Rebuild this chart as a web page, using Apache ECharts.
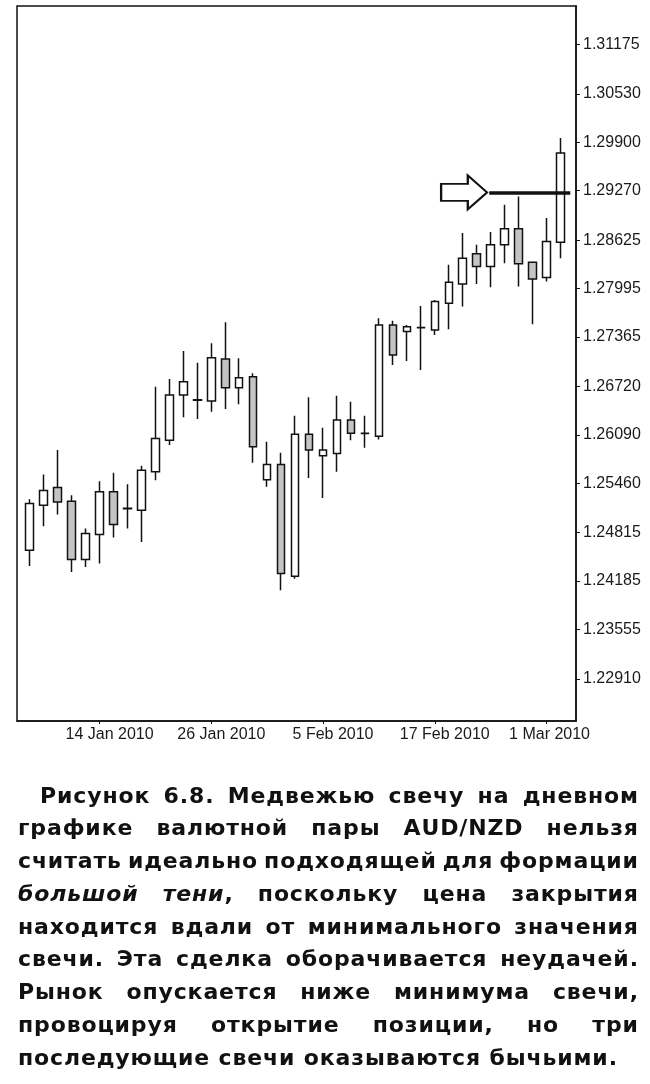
<!DOCTYPE html>
<html><head><meta charset="utf-8">
<script src="https://cdn.jsdelivr.net/npm/echarts@6/dist/echarts.min.js"></script>
<style>html,body{margin:0;padding:0;background:#fff;}#c{width:650px;height:1084px;}</style>
</head><body><div id="c"></div>
<script>
// ---- data ----
const dates = ['7 Jan 2010','8 Jan 2010','11 Jan 2010','12 Jan 2010','13 Jan 2010','14 Jan 2010','15 Jan 2010','18 Jan 2010','19 Jan 2010','20 Jan 2010','21 Jan 2010','22 Jan 2010','25 Jan 2010','26 Jan 2010','27 Jan 2010','28 Jan 2010','29 Jan 2010','1 Feb 2010','2 Feb 2010','3 Feb 2010','4 Feb 2010','5 Feb 2010','8 Feb 2010','9 Feb 2010','10 Feb 2010','11 Feb 2010','12 Feb 2010','15 Feb 2010','16 Feb 2010','17 Feb 2010','18 Feb 2010','19 Feb 2010','22 Feb 2010','23 Feb 2010','24 Feb 2010','25 Feb 2010','26 Feb 2010','1 Mar 2010','2 Mar 2010'];
const openP  = [1.24585,1.25172,1.25403,1.25224,1.24463,1.24790,1.25346,1.25125,1.25107,1.25607,1.26020,1.26608,1.26540,1.26529,1.27077,1.26703,1.26846,1.25505,1.25703,1.24245,1.26095,1.25815,1.25847,1.26281,1.26105,1.26072,1.27521,1.27434,1.27484,1.27456,1.27804,1.28056,1.28448,1.28282,1.28565,1.28774,1.28339,1.28138,1.28600];
const closeP = [1.25194,1.25364,1.25215,1.24463,1.24803,1.25346,1.24920,1.25132,1.25629,1.26042,1.26608,1.26781,1.26545,1.27094,1.26703,1.26833,1.25933,1.25703,1.24281,1.26095,1.25890,1.25890,1.26281,1.26108,1.26110,1.27521,1.27130,1.27499,1.27488,1.27825,1.28078,1.28391,1.28282,1.28565,1.28774,1.28317,1.28121,1.28608,1.29762];
const lowP   = [1.24380,1.24898,1.25051,1.24302,1.24367,1.24411,1.24751,1.24868,1.24693,1.25498,1.25955,1.26317,1.26294,1.26390,1.26425,1.26486,1.25724,1.25411,1.24063,1.24215,1.25528,1.25267,1.25607,1.26020,1.25920,1.26029,1.26999,1.27051,1.26934,1.27391,1.27465,1.27760,1.28056,1.28013,1.28326,1.28021,1.27530,1.28086,1.28391];
const highP  = [1.25250,1.25573,1.25890,1.25303,1.24868,1.25485,1.25594,1.25446,1.25685,1.26716,1.26816,1.27182,1.27029,1.27282,1.27556,1.27086,1.26891,1.25998,1.25857,1.26337,1.26578,1.26181,1.26598,1.26520,1.26337,1.27608,1.27577,1.27521,1.27769,1.27847,1.28304,1.28718,1.28565,1.28731,1.29087,1.29195,1.28345,1.28913,1.29957];
const yTickLabels = ['1.22910','1.23555','1.24185','1.24815','1.25460','1.26090','1.26720','1.27365','1.27995','1.28625','1.29270','1.29900','1.30530','1.31175'];
const xTickLabels = ['14 Jan 2010','26 Jan 2010','5 Feb 2010','17 Feb 2010','1 Mar 2010'];
// annotation (signal line & arrow), in data units
const signalLevel = 1.29248;
const signalLineFrom = 32.9, signalLineTo = 38.7;
const arrowAt = 31.1;
const captionLines = [
  'Рисунок 6.8. Медвежью свечу на дневном',
  'графике валютной пары AUD/NZD нельзя',
  'считать идеально подходящей для формации',
  '_большой_ _тени_, поскольку цена закрытия',
  'находится вдали от минимального значения',
  'свечи. Эта сделка оборачивается неудачей.',
  'Рынок опускается ниже минимума свечи,',
  'провоцируя открытие позиции, но три',
  'последующие свечи оказываются бычьими.'
];

// ---- build ----
const candles = dates.map((d, i) => [i, openP[i], closeP[i], lowP[i], highP[i]]);
const xTickIdx = xTickLabels.map(l => dates.indexOf(l));
const yTickVals = yTickLabels.map(Number);

const FAM = '"Liberation Sans", Arial, Helvetica, sans-serif';
const CFAM = '"DejaVu Sans", "Liberation Sans", sans-serif';
const FS = 22;
const fontN = 'bold ' + FS + 'px ' + CFAM;
const fontI = 'italic bold ' + FS + 'px ' + CFAM;
const ctx = document.createElement('canvas').getContext('2d');
function mw(t, f) { ctx.font = f; return ctx.measureText(t).width; }
function segs(word) {
  const parts = word.split('_');
  return parts.map((p, k) => ({ t: p, f: k % 2 ? fontI : fontN })).filter(s => s.t.length);
}
const LEFT = 18, RIGHT = 638, INDENT = 40, LAST_END = 617;
const lineY0 = 797, lineStep = 32.75;
// letter spacing so the (unjustified) last line spans LEFT..LAST_END
const lastWords = captionLines[captionLines.length - 1].split(' ').map(segs);
let lastChars = 0, lastNat = 0;
lastWords.forEach(ss => ss.forEach(s => { for (const ch of s.t) { lastChars++; lastNat += mw(ch, s.f); } }));
const spaceW = mw(' ', fontN);
lastNat += spaceW * (lastWords.length - 1);
const TRACK = (LAST_END - LEFT - lastNat) / (lastChars + lastWords.length - 2);

const graphics = [];
function wordWidth(ss) {
  let w = 0, n = 0;
  ss.forEach(s => { for (const ch of s.t) { w += mw(ch, s.f); n++; } });
  return w + TRACK * (n - 1);
}
captionLines.forEach((line, li) => {
  const words = line.split(' ').map(segs);
  const widths = words.map(wordWidth);
  const x0 = li === 0 ? INDENT : LEFT;
  const total = widths.reduce((a, b) => a + b, 0);
  const last = li === captionLines.length - 1;
  const gap = last ? spaceW + 2 * TRACK : (RIGHT - x0 - total) / (words.length - 1);
  let x = x0;
  const y = lineY0 + li * lineStep;
  words.forEach((ss) => {
    ss.forEach(s => {
      for (const ch of s.t) {
        graphics.push({ type: 'text', x: x, y: y, silent: true,
          style: { text: ch, font: s.f, fill: '#111', align: 'left', verticalAlign: 'middle' } });
        x += mw(ch, s.f) + TRACK;
      }
    });
    x += gap - TRACK;
  });
});

const chart = echarts.init(document.getElementById('c'), null, { renderer: 'canvas' });
chart.setOption({
  animation: false,
  backgroundColor: '#fff',
  grid: { left: 17, top: 6, right: 74, bottom: 363, show: true, borderColor: '#111', borderWidth: 1.5, backgroundColor: 'transparent' },
  xAxis: {
    type: 'value', min: -0.91, max: 39.11,
    splitLine: { show: false },
    axisLine: { show: true, onZero: false, lineStyle: { color: '#111', width: 1.5 } },
    axisTick: { show: true, customValues: xTickIdx, length: 3, lineStyle: { color: '#111' } },
    axisLabel: {
      customValues: xTickIdx, margin: 6, color: '#1a1a1a', fontSize: 16, fontFamily: FAM,
      padding: [0, 0, 0, 20],
      formatter: v => {
        const s = dates[Math.round(v)];
        return Math.round(v) === xTickIdx[xTickIdx.length - 1] ? '{m|' + s + '}' : s;
      },
      rich: { m: { fontSize: 16, fontFamily: FAM, color: '#1a1a1a', padding: [0, 14, 0, 0] } }
    }
  },
  yAxis: {
    type: 'value', position: 'right', min: 1.22360, max: 1.31677, scale: true,
    splitLine: { show: false },
    axisLine: { show: true, onZero: false, lineStyle: { color: '#111', width: 1.5 } },
    axisTick: { show: true, customValues: yTickVals, length: 4, lineStyle: { color: '#111' } },
    axisLabel: { customValues: yTickVals, margin: 7, color: '#1a1a1a', fontSize: 16, fontFamily: FAM,
      formatter: v => v.toFixed(5) }
  },
  series: [{
    type: 'candlestick',
    data: candles,
    barWidth: 8,
    itemStyle: { color: '#ffffff', color0: '#c4c4c4', borderColor: '#111', borderColor0: '#111', borderWidth: 1.5 },
    markLine: {
      silent: true, symbol: ['none', 'none'], label: { show: false },
      lineStyle: { color: '#111', width: 3.5, type: 'solid' },
      data: [[{ coord: [signalLineFrom, signalLevel] }, { coord: [signalLineTo, signalLevel] }]]
    },
    markPoint: {
      silent: true,
      symbol: 'path://M0,25L58,25L58,0L100,50L58,100L58,75L0,75Z',
      symbolSize: [46, 34], symbolKeepAspect: false,
      itemStyle: { color: '#fff', borderColor: '#111', borderWidth: 2 },
      label: { show: false },
      data: [{ coord: [arrowAt, signalLevel] }]
    }
  }],
  graphic: graphics
});
</script>
</body></html>
